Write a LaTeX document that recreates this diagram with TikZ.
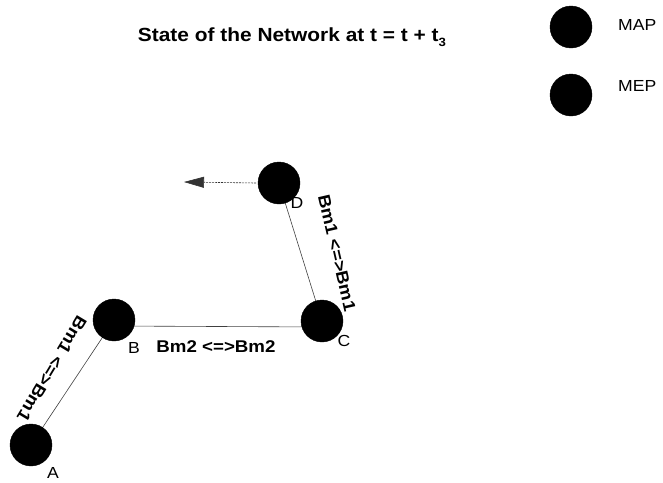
\documentclass[tikz,border=0pt]{standalone}
\usepackage{fontspec}
\usepackage{graphicx}
\setmainfont{Liberation Sans}
\usetikzlibrary{arrows.meta}
\newcommand{\widetext}[1]{\scalebox{1.1}[1]{#1}}
\tikzset{
  agent/.style={circle, fill=black, draw=black, minimum size=42pt, inner sep=0pt},
  link/.style={draw=black!75, line width=0.6pt},
  nodelabel/.style={font=\fontsize{16}{16}\selectfont, inner sep=0pt},
  linklabel/.style={font=\fontsize{17}{17}\selectfont\bfseries, inner sep=0pt},
  legendtext/.style={font=\fontsize{16}{16}\selectfont, inner sep=0pt, anchor=base west}
}
\begin{document}
\begin{tikzpicture}[x=1pt, y=-1pt]
  \useasboundingbox (0,0) rectangle (663,482);

  % title
  \node[font=\fontsize{19}{19}\selectfont\bfseries, inner sep=0pt, anchor=base] (title) at (292,41)
    {\widetext{State of the Network at t = t + t\raisebox{-5pt}{\fontsize{12}{12}\selectfont 3}}};

  % legend
  \node[agent] (mapdot) at (571,27) {};
  \node[legendtext] (maptext) at (618,30) {\widetext{MAP}};
  \node[agent] (mepdot) at (571,95) {};
  \node[legendtext] (meptext) at (618,91) {\widetext{MEP}};

  % network nodes
  \coordinate (pA) at (31,445);
  \coordinate (pB) at (114,320);
  \coordinate (pC) at (322,321);
  \coordinate (pD) at (279,183);

  % links
  \draw[link] (pA) -- (pB);
  \draw[link] ([yshift=-6pt]pB) -- ([yshift=-6pt]pC);
  \draw[link] (pD) -- (pC);

  \node[agent] (A) at (pA) {};
  \node[agent] (B) at (pB) {};
  \node[agent] (C) at (pC) {};
  \node[agent] (D) at (pD) {};

  \node[nodelabel] (lA) at (53,473) {\widetext{A}};
  \node[nodelabel] (lB) at (134,348) {\widetext{B}};
  \node[nodelabel] (lC) at (344,341) {\widetext{C}};
  \node[nodelabel] (lD) at (297,203) {\widetext{D}};

  % link labels
  \node[linklabel] (lbc) at (216,347) {\widetext{Bm2 <=>Bm2}};
  \node[linklabel, rotate=-77] (ldc) at (337,253) {\widetext{Bm1 <=>Bm1}};
  \node[linklabel, rotate=-121] (lab) at (52,369) {\widetext{Bm1 <=>Bm1}};

  % movement of D
  \coordinate (moveend) at (184,182);
  \draw[draw=black!80, line width=0.6pt, dash pattern=on 2pt off 1pt,
        -{Triangle[length=20pt, width=11pt]}] ([xshift=-23pt]D.center) -- (moveend);
\end{tikzpicture}
\end{document}
